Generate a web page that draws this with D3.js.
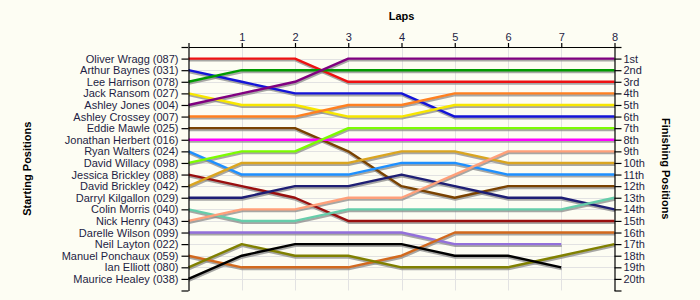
<!DOCTYPE html>
<html>
<head>
<meta charset="utf-8">
<script src="https://cdn.jsdelivr.net/npm/d3@7"></script>
<style>
  html, body { margin: 0; padding: 0; background: #fdfdf3; }
  svg { display: block; }
  text { font-family: "Liberation Sans", Arial, sans-serif; }
</style>
</head>
<body>
<div id="chart"></div>
<script>
// Drivers in starting order
const drivers = [
  "Oliver Wragg (087)", "Arthur Baynes (031)", "Lee Harrison (078)", "Jack Ransom (027)",
  "Ashley Jones (004)", "Ashley Crossey (007)", "Eddie Mawle (025)", "Jonathan Herbert (016)",
  "Ryan Walters (024)", "David Willacy (098)", "Jessica Brickley (088)", "David Brickley (042)",
  "Darryl Kilgallon (029)", "Colin Morris (040)", "Nick Henry (043)", "Darelle Wilson (099)",
  "Neil Layton (022)", "Manuel Ponchaux (059)", "Ian Elliott (080)", "Maurice Healey (038)"
];

const lineColors = [
  "#ee1111", "#1414d8", "#009a00", "#f7e600",
  "#800080", "#ff8020", "#7a4200", "#ff00ff",
  "#1e90ff", "#7cfc00", "#990f0f", "#daa520",
  "#1e1e74", "#66cdaa", "#ffa07a", "#9370db",
  null, "#d2691e", "#808000", "#000000"
];

// Race position after each lap (lap 0 = grid); shorter rows = retired
const positions = [
  [1, 1, 1, 3, 3, 3, 3, 3, 3],
  [2, 3, 4, 4, 4, 6, 6, 6, 6],
  [3, 2, 2, 2, 2, 2, 2, 2, 2],
  [4, 5, 5, 6, 6, 5, 5, 5, 5],
  [5, 4, 3, 1, 1, 1, 1, 1, 1],
  [6, 6, 6, 5, 5, 4, 4, 4, 4],
  [7, 7, 7, 9, 12, 13, 12, 12, 12],
  [8, 8, 8, 8, 8, 8, 8, 8, 8],
  [9, 11, 11, 11, 10, 10, 11, 11, 11],
  [10, 9, 9, 7, 7, 7, 7, 7, 7],
  [11, 12, 13, 15, 15, 15, 15, 15, 15],
  [12, 10, 10, 10, 9, 9, 10, 10, 10],
  [13, 13, 12, 12, 11, 12, 13, 13, 14],
  [14, 15, 15, 14, 14, 14, 14, 14, 13],
  [15, 14, 14, 13, 13, 11, 9, 9, 9],
  [16, 16, 16, 16, 16, 17, 17, 17],
  [],
  [18, 19, 19, 19, 18, 16, 16, 16, 16],
  [19, 17, 18, 18, 19, 19, 19, 18, 17],
  [20, 18, 17, 17, 17, 18, 18, 19]
];

const laps = [0, 1, 2, 3, 4, 5, 6, 7, 8];
const finishLabels = [
  "1st", "2nd", "3rd", "4th", "5th", "6th", "7th", "8th", "9th", "10th",
  "11th", "12th", "13th", "14th", "15th", "16th", "17th", "18th", "19th", "20th"
];

const width = 700, height = 300;
const svg = d3.select("#chart").append("svg")
  .attr("width", width).attr("height", height);

svg.append("rect").attr("width", width).attr("height", height).attr("fill", "#fdfdf3");

const x = d3.scaleLinear().domain([0, 8]).range([188.5, 614.5]);
const y = d3.scaleLinear().domain([0, 21]).range([47, 290.5]);

const rowTicks = d3.range(0, 22);
const textColor = "#1e1e44";

// grid
const grid = svg.append("g").attr("stroke", "#e2e2e2").attr("stroke-width", 1);
d3.range(1, 21).forEach(p => {
  grid.append("line").attr("x1", x(0)).attr("x2", x(8))
    .attr("y1", Math.round(y(p)) + 0.5).attr("y2", Math.round(y(p)) + 0.5);
});
d3.range(1, 8).forEach(l => {
  grid.append("line").attr("y1", y(0)).attr("y2", y(21))
    .attr("x1", Math.round(x(l)) + 0.5).attr("x2", Math.round(x(l)) + 0.5);
});

// position lines with a soft drop shadow
const line = d3.line().x((d, i) => x(i)).y(d => y(d));
const series = drivers.map((name, i) => ({ name, color: lineColors[i], pos: positions[i] }))
  .filter(s => s.pos.length > 1);

const shadows = svg.append("g").attr("transform", "translate(0.5,1.8)");
series.forEach(s => {
  shadows.append("path").attr("d", line(s.pos))
    .attr("fill", "none").attr("stroke", "#8a8a8a").attr("stroke-opacity", 0.75)
    .attr("stroke-width", 2.4).attr("stroke-linejoin", "round");
});
const lines = svg.append("g");
series.forEach(s => {
  lines.append("path").attr("d", line(s.pos))
    .attr("fill", "none").attr("stroke", s.color)
    .attr("stroke-width", 2.4).attr("stroke-linejoin", "round");
});

// axes
function styleAxis(g) {
  g.selectAll("path, line").attr("stroke", "#000").attr("stroke-width", 1.2);
  g.selectAll("text").attr("fill", textColor)
    .style("font-family", "'Liberation Sans', Arial, sans-serif").style("font-size", "11px");
}

const topAxis = d3.axisTop(x).tickValues(laps)
  .tickFormat(d => d === 0 ? "" : d).tickSize(4).tickSizeOuter(0).tickPadding(2);
svg.append("g").attr("transform", `translate(0,${y(0)})`).call(topAxis).call(styleAxis);

const leftAxis = d3.axisLeft(y).tickValues(rowTicks)
  .tickFormat(d => (d >= 1 && d <= 20) ? drivers[d - 1] : "")
  .tickSize(7).tickSizeOuter(0).tickPadding(3);
svg.append("g").attr("transform", `translate(${x(0)},0)`).call(leftAxis).call(styleAxis);

const rightAxis = d3.axisRight(y).tickValues(rowTicks)
  .tickFormat(d => (d >= 1 && d <= 20) ? finishLabels[d - 1] : "")
  .tickSize(7).tickSizeOuter(0).tickPadding(2);
svg.append("g").attr("transform", `translate(${x(8)},0)`).call(rightAxis).call(styleAxis);

// titles
const cx = (x(0) + x(8)) / 2, cy = (y(0) + y(21)) / 2;
svg.append("text").attr("x", cx).attr("y", 20).attr("text-anchor", "middle")
  .attr("font-weight", "bold").attr("font-size", 11).attr("fill", "#000").text("Laps");
svg.append("text").attr("transform", `translate(31,${cy}) rotate(-90)`)
  .attr("text-anchor", "middle").attr("font-weight", "bold").attr("font-size", 11)
  .attr("fill", "#000").text("Starting Positions");
svg.append("text").attr("transform", `translate(662,${cy}) rotate(90)`)
  .attr("text-anchor", "middle").attr("font-weight", "bold").attr("font-size", 11)
  .attr("fill", "#000").text("Finishing Positions");
</script>
</body>
</html>
